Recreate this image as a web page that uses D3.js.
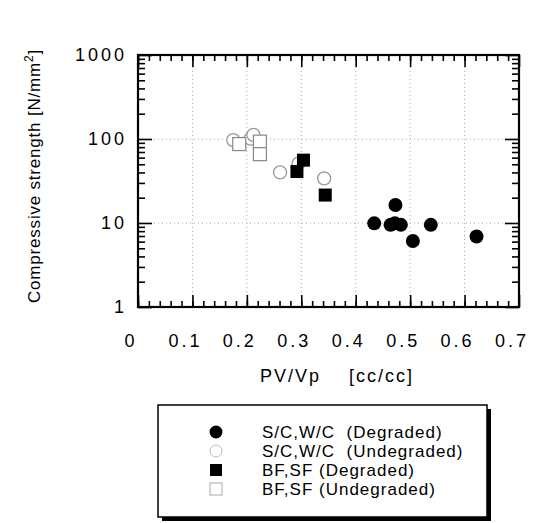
<!DOCTYPE html>
<html>
<head>
<meta charset="utf-8">
<script src="https://cdn.jsdelivr.net/npm/d3@7"></script>
<style>
  body { margin: 0; background: #fff; }
  text { font-family: "Liberation Sans", Arial, sans-serif; }
</style>
</head>
<body>
<svg id="chart" width="533" height="523"></svg>
<script>
// donnees
var scwcDeg = [[0.434, 9.9], [0.464, 9.5], [0.472, 9.9], [0.483, 9.5], [0.473, 16.4], [0.538, 9.5], [0.505, 6.1], [0.622, 6.9]];
var scwcUndeg = [[0.175, 97], [0.207, 101], [0.212, 112], [0.261, 40], [0.295, 51], [0.342, 34]];
var bfsfDeg = [[0.304, 56], [0.292, 41], [0.344, 21.5]];
var bfsfUndeg = [[0.186, 87], [0.224, 93], [0.224, 66]];
var xTicks = [0, 0.1, 0.2, 0.3, 0.4, 0.5, 0.6, 0.7];
var yTicks = [1, 10, 100, 1000];
var legendLabels = ["S/C,W/C  (Degraded)", "S/C,W/C  (Undegraded)", "BF,SF (Degraded)", "BF,SF (Undegraded)"];

var marge = {haut: 55, droite: 14, bas: 216, gauche: 138};
var largeur = 533, hauteur = 523;
var svg = d3.select("#chart");

var xScale = d3.scaleLinear().domain([0, 0.7]).range([marge.gauche, largeur - marge.droite]);
var yScale = d3.scaleLog().domain([1, 1000]).range([hauteur - marge.bas, marge.haut]);
var x0 = xScale.range()[0], x1 = xScale.range()[1];
var y0 = yScale.range()[0], y1 = yScale.range()[1];

// grille pointillee
var grid = svg.append("g").attr("stroke", "#aaa").attr("stroke-width", 1).attr("stroke-dasharray", "1,3");
[0.1, 0.2, 0.3, 0.4, 0.5, 0.6].forEach(function(v) {
    grid.append("line").attr("x1", xScale(v)).attr("x2", xScale(v)).attr("y1", y1).attr("y2", y0);
});
[10, 100].forEach(function(v) {
    grid.append("line").attr("x1", x0).attr("x2", x1).attr("y1", yScale(v)).attr("y2", yScale(v));
});

// graduations vers l'interieur
var minorX = d3.range(0, 35).map(function(i) { return i * 0.02; });
var minorY = [];
[1, 10, 100].forEach(function(d) { for (var k = 2; k <= 9; k++) minorY.push(d * k); });

svg.append("g").attr("transform", `translate(0,${y0})`)
    .call(d3.axisTop(xScale).tickValues(minorX).tickSize(6).tickFormat(""));
svg.append("g").attr("transform", `translate(0,${y1})`)
    .call(d3.axisBottom(xScale).tickValues(minorX).tickSize(6).tickFormat(""));
svg.append("g").attr("transform", `translate(0,${y0})`)
    .call(d3.axisTop(xScale).tickValues(xTicks).tickSize(12).tickFormat(""));
svg.append("g").attr("transform", `translate(0,${y1})`)
    .call(d3.axisBottom(xScale).tickValues(xTicks).tickSize(12).tickFormat(""));
svg.append("g").attr("transform", `translate(${x0},0)`)
    .call(d3.axisRight(yScale).tickValues(minorY).tickSize(7).tickFormat(""));
svg.append("g").attr("transform", `translate(${x1},0)`)
    .call(d3.axisLeft(yScale).tickValues(minorY).tickSize(7).tickFormat(""));
svg.append("g").attr("transform", `translate(${x0},0)`)
    .call(d3.axisRight(yScale).tickValues(yTicks).tickSize(14).tickFormat(""));
svg.append("g").attr("transform", `translate(${x1},0)`)
    .call(d3.axisLeft(yScale).tickValues(yTicks).tickSize(14).tickFormat(""));
svg.selectAll(".domain").remove();
svg.selectAll(".tick line").attr("stroke", "#000").attr("stroke-width", 1.6);

svg.append("rect").attr("x", x0).attr("y", y1).attr("width", x1 - x0).attr("height", y0 - y1)
    .attr("fill", "none").attr("stroke", "#000").attr("stroke-width", 2.2);

// etiquettes
svg.append("g").selectAll("text").data(xTicks).enter().append("text")
    .attr("x", function(d) { return xScale(d) - 7; })
    .attr("y", y0 + 40)
    .attr("text-anchor", "middle")
    .style("font-size", "18px").style("letter-spacing", "3px")
    .text(function(d) { return d === 0 ? "0" : d3.format(".1f")(d); });

svg.append("g").selectAll("text").data(yTicks).enter().append("text")
    .attr("x", 127)
    .attr("y", function(d) { return yScale(d) + 6; })
    .attr("text-anchor", "end")
    .style("font-size", "18px").style("letter-spacing", "3px")
    .text(function(d) { return d; });

svg.append("text")
    .attr("x", 337).attr("y", 382)
    .attr("text-anchor", "middle")
    .style("font-size", "18px").style("letter-spacing", "2px")
    .attr("xml:space", "preserve")
    .text("PV/Vp    [cc/cc]");

var yt = svg.append("text")
    .attr("transform", "translate(40,176) rotate(-90)")
    .attr("text-anchor", "middle")
    .style("font-size", "17px").style("letter-spacing", "0.8px");
yt.append("tspan").text("Compressive strength [N/mm");
yt.append("tspan").attr("dy", -7).style("font-size", "12px").text("2");
yt.append("tspan").attr("dy", 7).text("]");

// points
var marks = svg.append("g");
function cercles(data, plein) {
    marks.selectAll(null).data(data).enter().append("circle")
        .attr("cx", function(d) { return xScale(d[0]); })
        .attr("cy", function(d) { return yScale(d[1]); })
        .attr("r", plein ? 7 : 6.5)
        .attr("fill", plein ? "#000" : "#fff")
        .attr("stroke", plein ? "#000" : "#999")
        .attr("stroke-width", plein ? 0 : 1.3);
}
function carres(data, plein) {
    marks.selectAll(null).data(data).enter().append("rect")
        .attr("x", function(d) { return xScale(d[0]) - 6.5; })
        .attr("y", function(d) { return yScale(d[1]) - 6.5; })
        .attr("width", 13).attr("height", 13)
        .attr("fill", plein ? "#000" : "#fff")
        .attr("stroke", plein ? "#000" : "#888")
        .attr("stroke-width", plein ? 0 : 1.2);
}
cercles(scwcUndeg, false);
carres(bfsfUndeg, false);
carres(bfsfDeg, true);
cercles(scwcDeg, true);

// legende
var leg = svg.append("g");
leg.append("rect").attr("x", 162).attr("y", 409).attr("width", 329).attr("height", 112).attr("fill", "#000");
leg.append("rect").attr("x", 158).attr("y", 405).attr("width", 329).attr("height", 112)
    .attr("fill", "#fff").attr("stroke", "#000").attr("stroke-width", 1.5);
var legY = [432, 451, 470, 489];
legendLabels.forEach(function(l, i) {
    var y = legY[i];
    if (i < 2) {
        leg.append("circle").attr("cx", 216).attr("cy", y).attr("r", i === 0 ? 6.5 : 6)
            .attr("fill", i === 0 ? "#000" : "#fff").attr("stroke", i === 0 ? "none" : "#bbb");
    } else {
        leg.append("rect").attr("x", 210).attr("y", y - 6).attr("width", 12).attr("height", 12)
            .attr("fill", i === 2 ? "#000" : "#fff").attr("stroke", i === 2 ? "none" : "#aaa");
    }
    leg.append("text").attr("x", 262).attr("y", y + 6)
        .attr("xml:space", "preserve")
        .style("font-size", "17px").style("letter-spacing", "1px")
        .text(l);
});
</script>
</body>
</html>
